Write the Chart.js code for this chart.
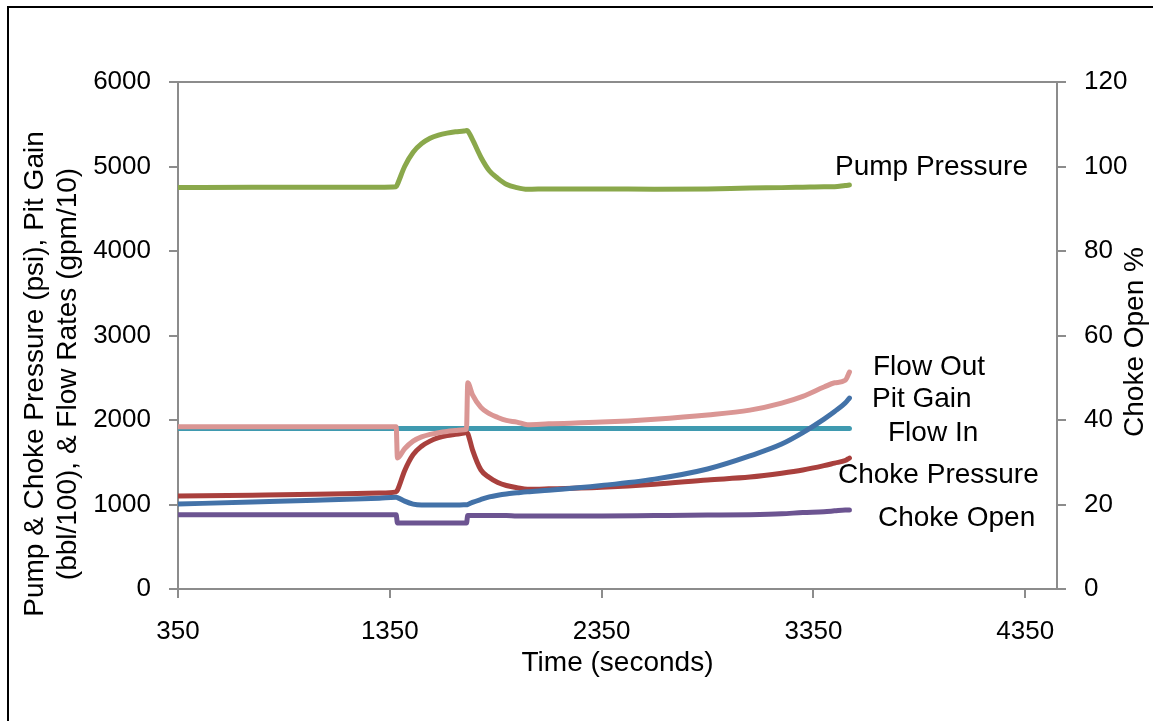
<!DOCTYPE html>
<html><head><meta charset="utf-8">
<script src="https://cdn.jsdelivr.net/npm/chart.js@4.4.0/dist/chart.umd.min.js"></script>
<style>html,body{margin:0;padding:0;background:#fff;}</style>
</head><body>
<canvas id="c" width="1153" height="721"></canvas>
<script>
// ---- data ----
const time = [350, 700, 1000, 1300, 1380, 1386, 1420, 1460, 1500, 1540, 1580, 1620, 1660, 1700, 1712, 1718, 1740, 1780, 1820, 1860, 1900, 1950, 2000, 2100, 2350, 2600, 2850, 3050, 3200, 3300, 3400, 3450, 3500, 3520];
const pumpPressure = [4750, 4755, 4755, 4755, 4760, 4790, 5000, 5170, 5270, 5335, 5372, 5395, 5410, 5420, 5425, 5420, 5320, 5110, 4950, 4860, 4790, 4750, 4730, 4735, 4735, 4730, 4735, 4745, 4750, 4755, 4760, 4760, 4775, 4780];
const flowOut = [1920, 1920, 1920, 1920, 1920, 1550, 1660, 1750, 1800, 1830, 1850, 1865, 1875, 1885, 1890, 2440, 2300, 2150, 2075, 2030, 1995, 1975, 1945, 1955, 1975, 2010, 2060, 2117, 2200, 2280, 2390, 2440, 2470, 2567];
const pitGain = [1005, 1030, 1050, 1075, 1085, 1082, 1040, 1005, 995, 995, 995, 995, 995, 996, 996, 1000, 1025, 1060, 1090, 1110, 1125, 1138, 1150, 1168, 1225, 1300, 1420, 1575, 1715, 1850, 2010, 2100, 2200, 2260];
const flowIn = [1900, 1900, 1900, 1900, 1900, 1900, 1900, 1900, 1900, 1900, 1900, 1900, 1900, 1900, 1900, 1900, 1900, 1900, 1900, 1900, 1900, 1900, 1900, 1900, 1900, 1900, 1900, 1900, 1900, 1900, 1900, 1900, 1900, 1900];
const chokePressure = [1100, 1110, 1120, 1135, 1150, 1170, 1400, 1590, 1690, 1750, 1790, 1815, 1830, 1845, 1850, 1840, 1650, 1410, 1320, 1260, 1225, 1200, 1180, 1185, 1205, 1240, 1290, 1325, 1370, 1408, 1460, 1490, 1520, 1550];
const chokeOpen = [17.6, 17.6, 17.6, 17.6, 17.6, 15.6, 15.6, 15.6, 15.6, 15.6, 15.6, 15.6, 15.6, 15.6, 15.6, 17.4, 17.4, 17.4, 17.4, 17.4, 17.4, 17.3, 17.3, 17.3, 17.3, 17.4, 17.5, 17.6, 17.8, 18.1, 18.3, 18.5, 18.7, 18.7];

const xTicks = [350, 1350, 2350, 3350, 4350];
const yTicks = [0, 1000, 2000, 3000, 4000, 5000, 6000];
const y2Ticks = [0, 20, 40, 60, 80, 100, 120];
const seriesNames = ['Pump Pressure', 'Flow Out', 'Pit Gain', 'Flow In', 'Choke Pressure', 'Choke Open'];
const xTitle = 'Time (seconds)';
const yTitle = ['Pump & Choke Pressure (psi), Pit Gain', '(bbl/100), & Flow Rates (gpm/10)'];
const y2Title = 'Choke Open %';

// ---- build ----
const pts = arr => arr.map((v, i) => ({x: time[i], y: v}));
function ds(label, arr, color, axis) {
  return {label, data: pts(arr), borderColor: color, backgroundColor: color, borderWidth: 5,
    pointRadius: 0, fill: false, cubicInterpolationMode: 'monotone', yAxisID: axis,
    borderCapStyle: 'round', borderJoinStyle: 'round'};
}
const FONT = 'Liberation Sans, Arial, sans-serif';
const AX = '#8c8c8c';

const annot = {
  id: 'annot',
  beforeDraw(chart) {
    const ctx = chart.ctx; ctx.save();
    ctx.fillStyle = '#fff'; ctx.fillRect(0, 0, chart.width, chart.height);
    ctx.strokeStyle = '#000'; ctx.lineWidth = 2;
    ctx.beginPath(); ctx.moveTo(8, 721); ctx.lineTo(8, 7); ctx.lineTo(1153, 7); ctx.stroke();
    ctx.restore();
  },
  afterDraw(chart) {
    const ctx = chart.ctx, a = chart.chartArea;
    ctx.save();
    ctx.strokeStyle = AX; ctx.lineWidth = 2;
    ctx.beginPath(); ctx.moveTo(a.left - 9, a.top); ctx.lineTo(a.right + 9, a.top); ctx.stroke();
    ctx.fillStyle = '#000';
    ctx.font = '28px ' + FONT; ctx.textAlign = 'left'; ctx.textBaseline = 'alphabetic';
    const lp = [[835, 175], [873, 375], [872, 407], [888, 441], [838, 483], [878, 526]];
    seriesNames.forEach((t, i) => ctx.fillText(t, lp[i][0], lp[i][1]));
    ctx.font = '28px ' + FONT; ctx.textAlign = 'center'; ctx.textBaseline = 'middle';
    ctx.fillText(xTitle, (a.left + a.right) / 2, 663);
    ctx.save(); ctx.translate(35, 374); ctx.rotate(-Math.PI / 2);
    ctx.fillText(yTitle[0], 0, 0);
    ctx.fillText(yTitle[1], 0, 33);
    ctx.restore();
    ctx.save(); ctx.translate(1135, 342); ctx.rotate(-Math.PI / 2);
    ctx.fillText(y2Title, 0, 0);
    ctx.restore();
    ctx.restore();
  }
};

function axisCommon(ticks) {
  return {
    afterBuildTicks: s => { s.ticks = ticks.map(v => ({value: v})); },
    ticks: {font: {family: FONT, size: 26}, color: '#000', autoSkip: false, maxRotation: 0, padding: 18,
      callback: v => String(v)},
    grid: {display: true, drawOnChartArea: false, drawTicks: true, tickLength: 9, color: AX, lineWidth: 2},
    border: {display: true, color: AX, width: 2}
  };
}

new Chart(document.getElementById('c'), {
  type: 'line',
  data: {datasets: [
    ds('Flow Out', flowOut, '#DA9694', 'y'),
    ds('Pit Gain', pitGain, '#4372A8', 'y'),
    ds('Choke Pressure', chokePressure, '#A9403D', 'y'),
    ds('Choke Open', chokeOpen, '#6C5491', 'y1'),
    ds('Flow In', flowIn, '#3F9AB0', 'y'),
    ds('Pump Pressure', pumpPressure, '#8AA84B', 'y')
  ]},
  options: {
    responsive: false, animation: false, devicePixelRatio: 1,
    layout: {padding: {top: 82, left: 0, right: 0, bottom: 0}},
    plugins: {legend: {display: false}, tooltip: {enabled: false}},
    scales: {
      x: Object.assign(axisCommon(xTicks), {type: 'linear', min: 350, max: 4500, afterFit: s => { s.height = 132; }}),
      y: Object.assign(axisCommon(yTicks), {position: 'left', min: 0, max: 6000, afterFit: s => { s.width = 178; }}),
      y1: Object.assign(axisCommon(y2Ticks), {position: 'right', min: 0, max: 120, afterFit: s => { s.width = 96; }})
    }
  },
  plugins: [annot]
});
</script>
</body></html>
